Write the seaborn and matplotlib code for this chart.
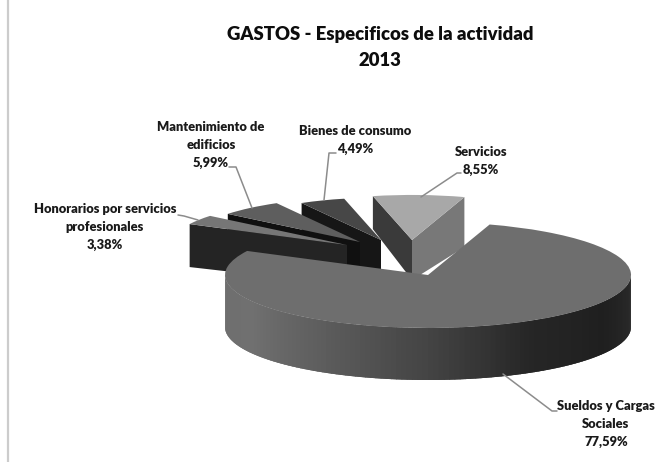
import numpy as np
import matplotlib
matplotlib.use("Agg")
import matplotlib.pyplot as plt
import seaborn as sns

categorias = ["Sueldos y Cargas\nSociales", "Servicios", "Bienes de consumo",
              "Mantenimiento de\nedificios", "Honorarios por servicios\nprofesionales"]
porcentajes = [77.59, 8.55, 4.49, 5.99, 3.38]
etiquetas = ["77,59%", "8,55%", "4,49%", "5,99%", "3,38%"]
titulo = "GASTOS - Especificos de la actividad\n2013"

sns.set_theme(style="white")
plt.rcParams["font.family"] = ["Lato", "DejaVu Sans"]

W, H = 656, 462
RX, RY = 203.0, 53.0
CX, CY = 428.0, 275.0
fig = plt.figure(figsize=(W / 100, H / 100), dpi=100, facecolor="white")
ax = fig.add_axes([0, 0, 1, 1])

wedges, _ = ax.pie(porcentajes, startangle=153, counterclock=True, radius=1,
                   colors=["#6e6e6e", "#a8a8a8", "#474747", "#5e5e5e", "#767676"],
                   wedgeprops=dict(linewidth=0))
ax.set_aspect("auto")
ax.set_xlim(-CX / RX, (W - CX) / RX)
ax.set_ylim((CY - H) / RY, CY / RY)
ax.axis("off")


def px(x, y):
    return (x - CX) / RX, (CY - y) / RY


# per-slice apex (pixels), radius, depths, draw order, wall colours (theta2 edge, theta1 edge)
layout = {
    0: dict(apex=(428, 275), r=1.00, d2=52, d1=52, z=10, wall2=None, wall1=None),
    1: dict(apex=(412, 240), r=0.85, d2=33, d1=50, z=5, wall2="#3a3a3a", wall1="#787878"),
    2: dict(apex=(381, 240), r=0.80, d2=32, d1=32, z=2, wall2="#161616", wall1=None),
    3: dict(apex=(360, 242), r=0.84, d2=32, d1=32, z=3, wall2="#101010", wall1=None),
    4: dict(apex=(347, 245), r=0.87, d2=43, d1=43, z=4, wall2="#242424", wall1=None),
}


def wall(cen, r, theta, depth_u, color, z, apex_depth):
    t = np.deg2rad(theta)
    ex, ey = cen[0] + r * np.cos(t), cen[1] + r * np.sin(t)
    ax.fill([cen[0], ex, ex, cen[0]], [cen[1], ey, ey - depth_u, cen[1] - apex_depth],
            color=color, lw=0, zorder=z)


for i, w in enumerate(wedges):
    cfg = layout[i]
    cen = px(*cfg["apex"])
    w.set_center(cen)
    w.set_radius(cfg["r"])
    w.set_zorder(cfg["z"] + 0.5)
    if cfg["wall1"]:
        wall(cen, cfg["r"], w.theta1, cfg["d1"] / RY, cfg["wall1"], cfg["z"] + 0.1, 40 / RY)
    if cfg["wall2"]:
        wall(cen, cfg["r"], w.theta2, cfg["d2"] / RY, cfg["wall2"], cfg["z"] + 0.2, 40 / RY)

# gradient rim of the large slice
main = wedges[0]
cen = main.center
d = layout[0]["d2"] / RY
n = 120
grad = sns.blend_palette(["#6e6e6e", "#707070", "#5c5c5c", "#444444", "#262626", "#1f1f1f", "#2c2c2c"], n)
edges = np.deg2rad(np.linspace(180, 360, n + 1))
for k in range(n):
    a = np.linspace(edges[k], min(edges[k + 1] + 0.03, 2 * np.pi), 5)
    xs = cen[0] + np.cos(a)
    ys = cen[1] + np.sin(a)
    ax.fill(np.r_[xs, xs[::-1]], np.r_[ys, ys[::-1] - d], color=grad[k], lw=0, zorder=9)
main.set_zorder(10.5)

# labels and leader lines (pixel anchors)
lab_kw = dict(ha="center", va="center", fontsize=9.3, fontweight="heavy", color="#1a1a1a",
              linespacing=1.6, zorder=20)
anchors = [(606, 424), (481, 161), (355, 140), (211, 145), (105, 227)]
for name, val, (x, y) in zip(categorias, etiquetas, anchors):
    ax.text(*px(x, y), f"{name}\n{val}", **lab_kw)

leaders = [[(503, 374), (552, 411), (557, 411)],
           [(421, 197), (457, 173), (461, 173)],
           [(324, 200), (329, 153), (336, 153)],
           [(252, 208), (236, 167), (229, 167)],
           [(198, 220), (184, 216), (178, 215)]]
for seg in leaders:
    xs, ys = zip(*[px(*p) for p in seg])
    ax.plot(xs, ys, color="#8c8c8c", lw=1.1, zorder=15)

ax.text(*px(380, 47.5), titulo, ha="center", va="center", fontsize=13.3, fontweight="heavy",
        color="#0d0d0d", linespacing=1.65)

# faint chart frame
ax.plot(*zip(px(8, 0), px(8, H)), color="#cccccc", lw=1.6)

fig.savefig("out.png", dpi=100, facecolor="white")
